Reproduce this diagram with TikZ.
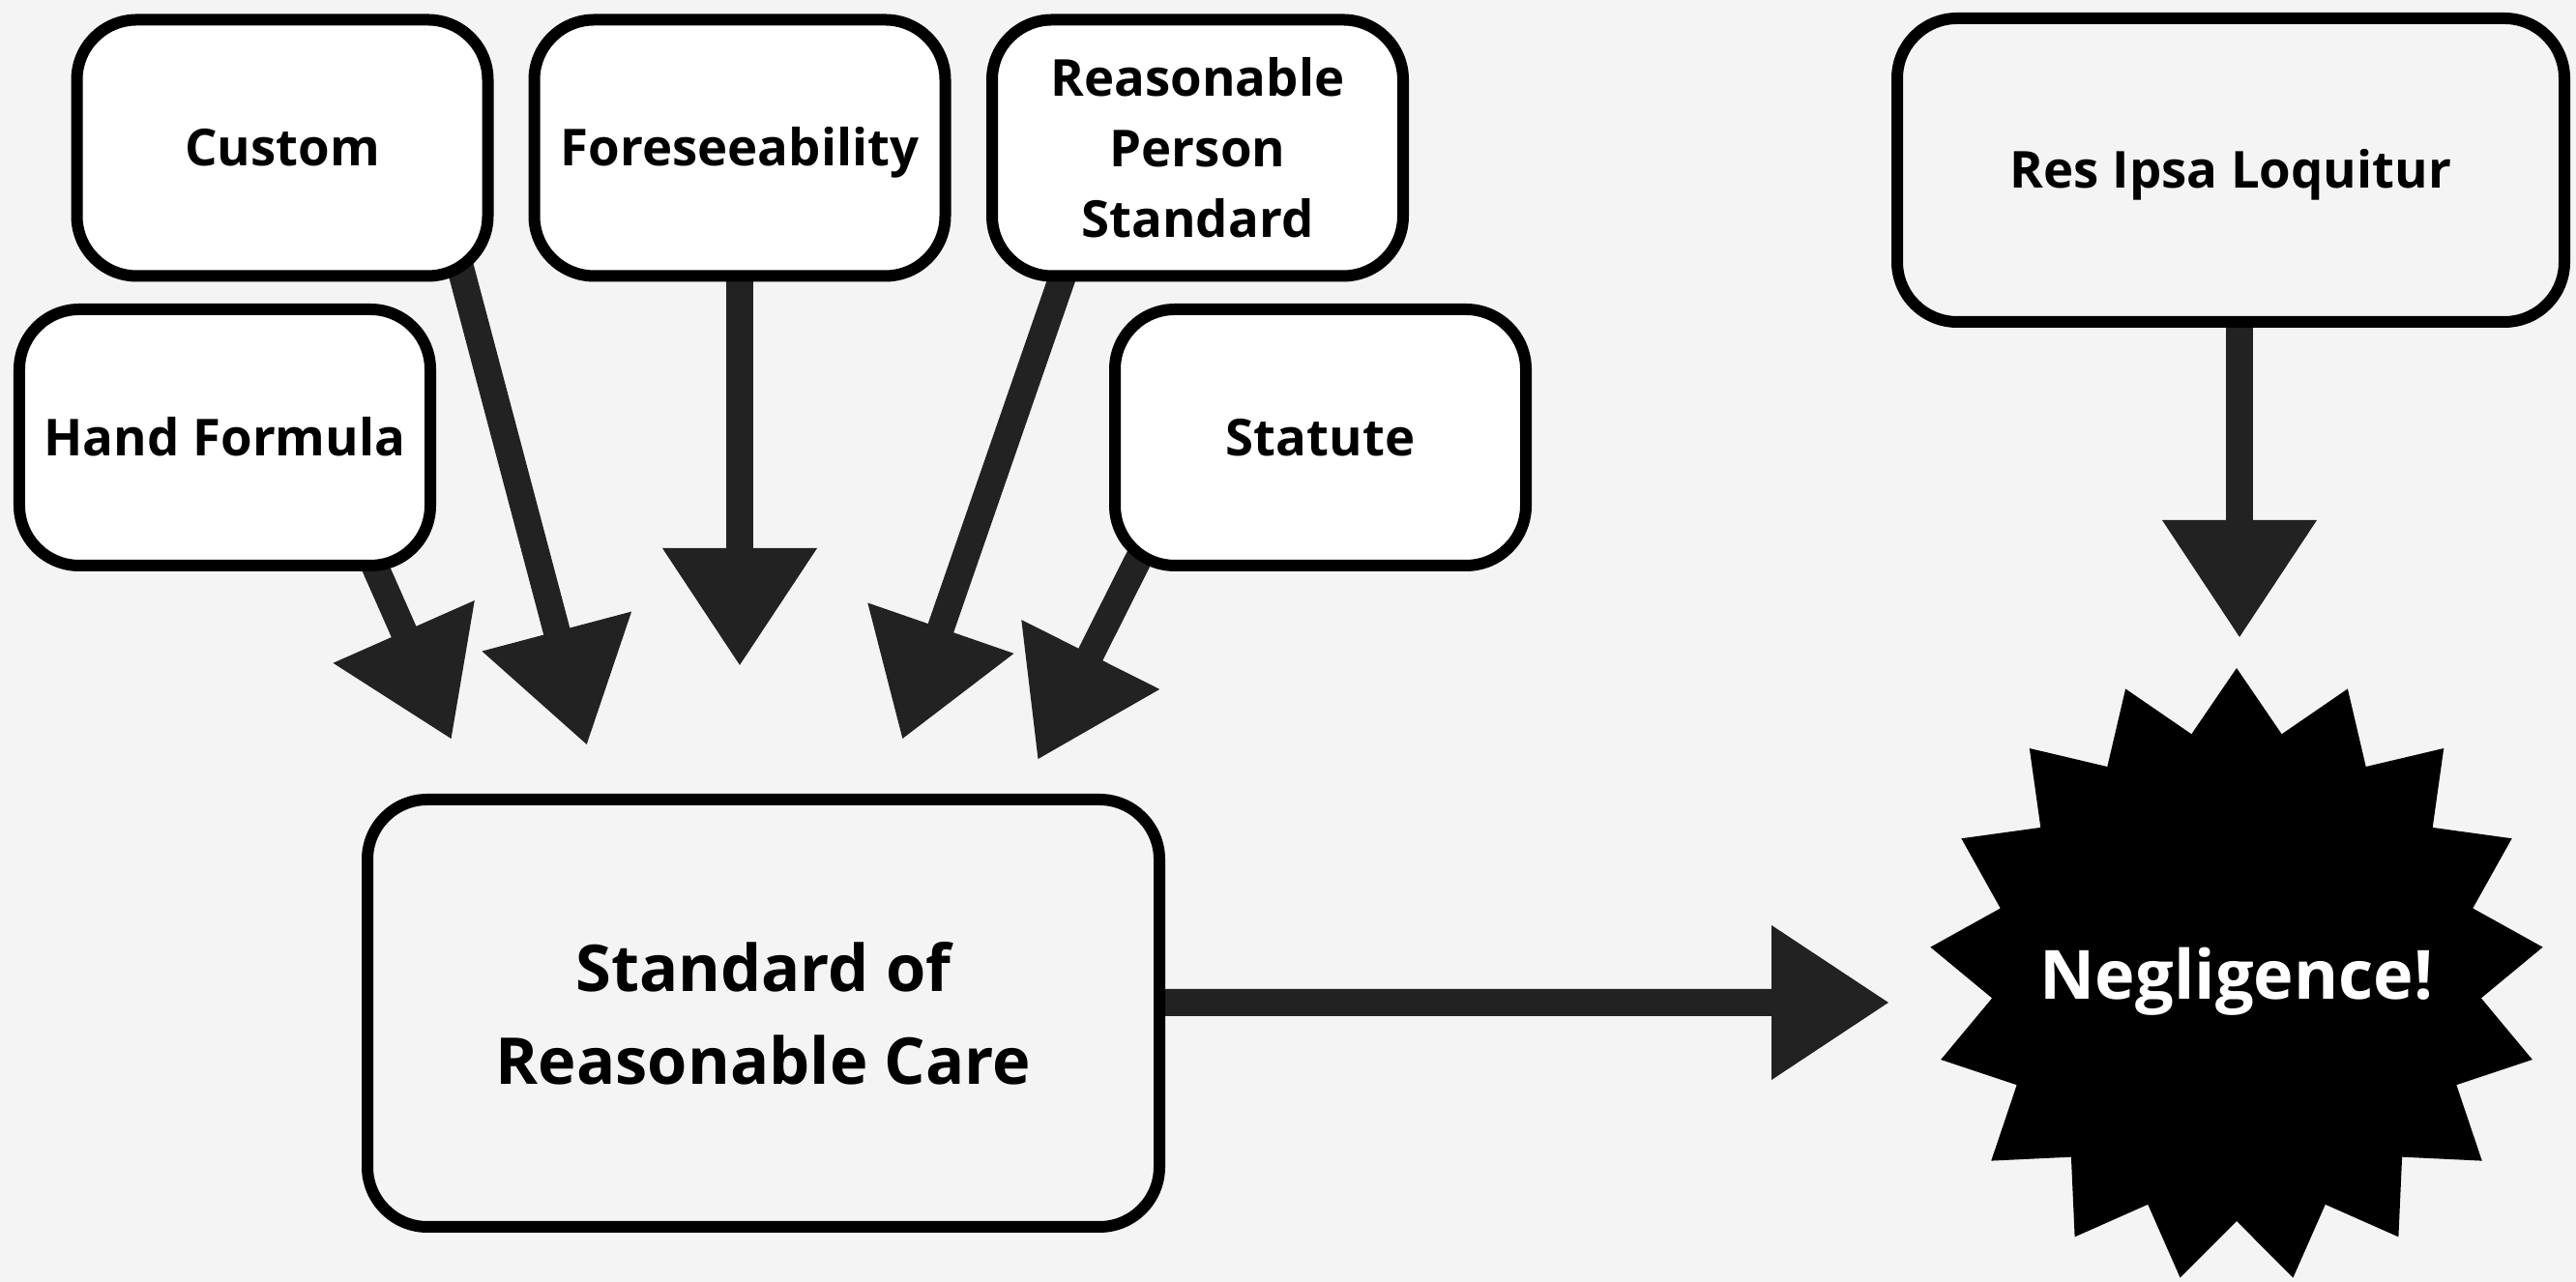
\documentclass[tikz,border=0pt]{standalone}
\usepackage{fontspec}
\setmainfont{Open Sans}
\usetikzlibrary{arrows.meta,calc}
\definecolor{bgcol}{HTML}{F4F4F4}
\definecolor{arrcol}{HTML}{222222}
\pgfdeclarelayer{bg}
\pgfsetlayers{bg,main}
\begin{document}
\begin{tikzpicture}[
  box/.style={draw=black, line width=1.2mm, rounded corners=6.2mm, fill=white, align=center,
    font=\bfseries\fontsize{15}{20.8}\selectfont, minimum width=4.25cm, minimum height=2.65cm, inner sep=0pt},
  oneline/.style={text height=10.7pt, text depth=0pt},
  bigbox/.style={box, fill=bgcol},
  arr/.style={draw=arrcol, line width=2.8mm, line cap=butt,
    -{Triangle[length=12.2mm, width=15.2mm]}, shorten <=-6mm},
]
\begin{pgfonlayer}{bg}
\fill[bgcol] (0,0) rectangle (26.64,13.26);
\end{pgfonlayer}
\useasboundingbox (0,0) rectangle (26.64,13.26);

% star
\fill[black, shift={(23.13,3.17)}] (90:3.18)
  \foreach \i in {1,...,33}{ -- ({90+\i*180/17}:{mod(\i,2)==0 ? 3.18 : 2.54}) } -- cycle;

\node[box, oneline] (custom) at (2.92,11.73) {Custom};
\node[box, oneline] (fore) at (7.65,11.73) {Foreseeability};
\node[box] (rps) at (12.385,11.73) {Reasonable\\Person\\Standard};
\node[box, oneline] (hand) at (2.325,8.735) {Hand Formula};
\node[box, oneline] (statute) at (13.655,8.735) {Statute};
\node[bigbox, oneline, minimum width=6.90cm, minimum height=3.14cm] (res) at (23.07,11.50) {Res Ipsa Loquitur};
\node[bigbox, minimum width=8.19cm, minimum height=4.42cm, font=\bfseries\fontsize{19}{27.3}\selectfont] (std) at (7.895,2.78) {Standard of\\Reasonable Care};
\node[text=white, font=\bfseries\fontsize{20}{24}\selectfont, inner sep=0pt, text height=14.3pt, text depth=0pt] (neg) at (23.13,3.18) {Negligence!};

\coordinate (sH) at ($(hand.south)+(1.575,0)$);
\coordinate (sC) at ($(custom.south)+(1.88,0)$);
\coordinate (sF) at ($(fore.south)+(0,0)$);
\coordinate (sR) at ($(rps.south)+(-1.415,0)$);
\coordinate (sS) at ($(statute.south)+(-1.945,0)$);
\coordinate (sRes) at ($(res.south)+(0.09,0)$);
\coordinate (sStd) at ($(std.east)+(0,0.11)$);

\coordinate (tH) at (4.67,5.61);
\coordinate (tC) at (6.07,5.55);
\coordinate (tF) at (7.65,6.37);
\coordinate (tR) at (9.33,5.61);
\coordinate (tS) at (10.73,5.40);
\coordinate (tRes) at (23.16,6.66);
\coordinate (tN) at (19.54,2.89);

\begin{pgfonlayer}{bg}
\draw[arr] (sH) -- (tH);
\draw[arr] (sC) -- (tC);
\draw[arr] (sF) -- (tF);
\draw[arr] (sR) -- (tR);
\draw[arr] (sS) -- (tS);
\draw[arr] (sRes) -- (tRes);
\draw[arr] (sStd) -- (tN);
\end{pgfonlayer}
\end{tikzpicture}
\end{document}
